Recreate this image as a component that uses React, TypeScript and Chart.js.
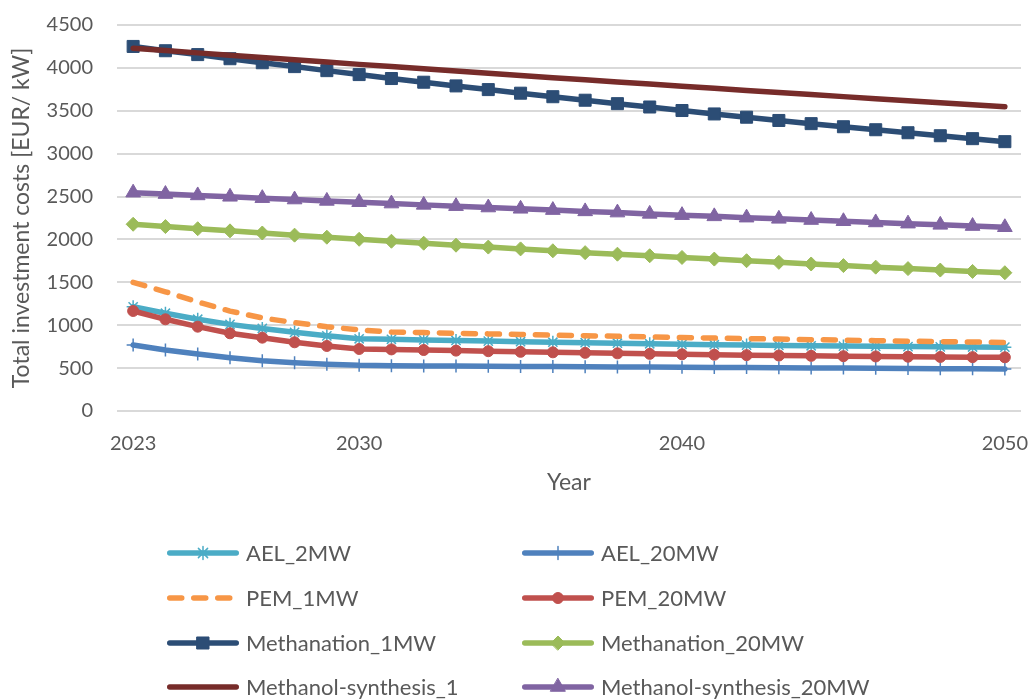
import React, { useEffect, useRef } from "react";
import { Chart, registerables } from "chart.js";
import { drawPoint } from "chart.js/helpers";

Chart.register(...registerables);

// Years on the horizontal axis and the ones that get a tick label
const years = [
  2023, 2024, 2025, 2026, 2027, 2028, 2029, 2030, 2031, 2032, 2033, 2034, 2035, 2036,
  2037, 2038, 2039, 2040, 2041, 2042, 2043, 2044, 2045, 2046, 2047, 2048, 2049, 2050,
];
const xTickYears = [2023, 2030, 2040, 2050];

// Total investment costs in EUR/kW per technology
const ael2MW = [
  1215, 1140, 1070, 1010, 962, 917, 876, 842, 836, 829, 822, 815, 808, 802,
  796, 790, 784, 778, 773, 768, 764, 760, 757, 754, 751, 748, 746, 744,
];
const ael20MW = [
  770, 712, 665, 622, 587, 562, 545, 532, 528, 526, 524, 522, 520, 518,
  516, 514, 512, 510, 508, 506, 504, 502, 500, 498, 496, 494, 492, 490,
];
const pem1MW = [
  1500, 1390, 1272, 1165, 1085, 1030, 983, 945, 922, 914, 906, 899, 892, 885,
  878, 871, 864, 857, 850, 844, 838, 832, 826, 820, 814, 809, 804, 799,
];
const pem20MW = [
  1166, 1069, 983, 906, 855, 801, 758, 723, 718, 711, 704, 697, 690, 684,
  678, 672, 666, 661, 656, 651, 647, 643, 639, 636, 633, 630, 628, 626,
];
const methanation1MW = [
  4250, 4200, 4155, 4107, 4060, 4015, 3968, 3922, 3876, 3833, 3790, 3747, 3705, 3664,
  3623, 3583, 3544, 3503, 3463, 3425, 3387, 3350, 3314, 3279, 3244, 3209, 3175, 3140,
];
const methanation20MW = [
  2177, 2150, 2125, 2100, 2075, 2050, 2026, 2002, 1979, 1956, 1933, 1911, 1890, 1868,
  1846, 1828, 1810, 1790, 1771, 1752, 1733, 1714, 1695, 1677, 1660, 1643, 1627, 1612,
];
const methanolSynthesis1 = [
  4230, 4203, 4175, 4148, 4121, 4094, 4068, 4041, 4015, 3989, 3963, 3937, 3912, 3886,
  3861, 3836, 3811, 3786, 3762, 3737, 3713, 3689, 3665, 3641, 3617, 3594, 3570, 3547,
];
const methanolSynthesis20MW = [
  2545, 2529, 2513, 2497, 2481, 2465, 2449, 2434, 2418, 2403, 2388, 2372, 2357, 2342,
  2327, 2313, 2298, 2283, 2269, 2254, 2240, 2226, 2212, 2198, 2184, 2170, 2156, 2142,
];

const FONT = "Lato";
const TEXT_COLOR = "#595959";
const LINE_WIDTH = 5.5;

// Two-column legend under the plot
const LEGEND_COL_X = [167, 522];
const LEGEND_ROW_Y = [553, 598, 643, 687];
const LEGEND_LINE_LEN = 72;
const LEGEND_TEXT_GAP = 7;
const LEGEND_FONT_SIZE = 22;

type SeriesStyle = {
  label: string;
  values: number[];
  color: string;
  pointStyle?: string;
  pointRadius?: number;
  pointBorderWidth?: number;
  dash?: number[];
};

const series: SeriesStyle[] = [
  { label: "AEL_2MW", values: ael2MW, color: "#4BACC6", pointStyle: "star", pointRadius: 6.5, pointBorderWidth: 1.5 },
  { label: "AEL_20MW", values: ael20MW, color: "#4F81BD", pointStyle: "cross", pointRadius: 6.5, pointBorderWidth: 1.5 },
  { label: "PEM_1MW", values: pem1MW, color: "#F79646", dash: [12, 12] },
  { label: "PEM_20MW", values: pem20MW, color: "#C0504D", pointStyle: "circle", pointRadius: 5.5, pointBorderWidth: 1 },
  { label: "Methanation_1MW", values: methanation1MW, color: "#2C4D75", pointStyle: "rect", pointRadius: 8.5, pointBorderWidth: 1 },
  { label: "Methanation_20MW", values: methanation20MW, color: "#9BBB59", pointStyle: "rectRot", pointRadius: 7, pointBorderWidth: 1 },
  { label: "Methanol-synthesis_1", values: methanolSynthesis1, color: "#772C2A" },
  { label: "Methanol-synthesis_20MW", values: methanolSynthesis20MW, color: "#8064A2", pointStyle: "triangle", pointRadius: 8.5, pointBorderWidth: 1 },
];

const gridLegend = {
  id: "gridLegend",
  afterDraw(chart: any) {
    const ctx: CanvasRenderingContext2D = chart.ctx;
    chart.data.datasets.forEach((ds: any, i: number) => {
      const x0 = LEGEND_COL_X[i % 2];
      const y = LEGEND_ROW_Y[Math.floor(i / 2)];
      const half = ds.borderWidth / 2;
      ctx.save();
      ctx.strokeStyle = ds.borderColor;
      ctx.lineWidth = ds.borderWidth;
      ctx.lineCap = "round";
      ctx.setLineDash(ds.borderDash || []);
      ctx.beginPath();
      ctx.moveTo(x0 + half, y);
      ctx.lineTo(x0 + LEGEND_LINE_LEN - half, y);
      ctx.stroke();
      ctx.setLineDash([]);
      if (ds.pointRadius > 0) {
        ctx.fillStyle = ds.pointBackgroundColor;
        ctx.strokeStyle = ds.pointBorderColor;
        ctx.lineWidth = ds.pointBorderWidth;
        drawPoint(
          ctx,
          { pointStyle: ds.pointStyle, radius: ds.pointRadius, rotation: 0, borderWidth: ds.pointBorderWidth } as any,
          x0 + LEGEND_LINE_LEN / 2,
          y
        );
      }
      ctx.fillStyle = TEXT_COLOR;
      ctx.font = `${LEGEND_FONT_SIZE}px ${FONT}`;
      ctx.textAlign = "left";
      ctx.textBaseline = "middle";
      ctx.fillText(ds.label, x0 + LEGEND_LINE_LEN + LEGEND_TEXT_GAP, y + 1);
      ctx.restore();
    });
  },
};

// Keep tick-label overhang from shrinking the plot area
const noScalePadding = (scale: any) => {
  scale.paddingTop = 0;
  scale.paddingBottom = 0;
  scale.paddingLeft = 0;
  scale.paddingRight = 0;
};

export default function App() {
  const canvasRef = useRef<HTMLCanvasElement | null>(null);

  useEffect(() => {
    document.body.style.margin = "0";
    const canvas = canvasRef.current;
    if (!canvas) return;

    const datasets = series.map((s, i) => ({
      label: s.label,
      data: years.map((yr, k) => ({ x: yr, y: s.values[k] })),
      borderColor: s.color,
      backgroundColor: s.color,
      borderWidth: LINE_WIDTH,
      borderDash: s.dash || [],
      borderCapStyle: "round" as const,
      borderJoinStyle: "round" as const,
      pointStyle: s.pointStyle || "circle",
      pointRadius: s.pointRadius || 0,
      pointHoverRadius: s.pointRadius || 0,
      pointBorderWidth: s.pointBorderWidth || 0,
      pointBackgroundColor: s.color,
      pointBorderColor: s.color,
      order: 20 - i,
      tension: 0,
      fill: false,
    }));

    const chart = new Chart(canvas, {
      type: "line",
      data: { datasets },
      plugins: [gridLegend],
      options: {
        responsive: false,
        animation: false,
        devicePixelRatio: 1,
        layout: { padding: { left: 0, right: 11, top: 25, bottom: 204 } },
        plugins: {
          legend: { display: false },
          tooltip: { enabled: false },
        },
        scales: {
          x: {
            type: "linear",
            min: 2022.5,
            max: 2050.5,
            afterBuildTicks: (scale: any) => {
              scale.ticks = xTickYears.map((v) => ({ value: v }));
            },
            afterFit: (scale: any) => {
              scale.height = 85;
              noScalePadding(scale);
            },
            grid: { display: false },
            border: { display: false },
            ticks: {
              autoSkip: false,
              maxRotation: 0,
              padding: 13,
              color: TEXT_COLOR,
              font: { family: FONT, size: 20 },
              callback: (v: any) => String(v),
            },
            title: {
              display: true,
              text: "Year",
              color: TEXT_COLOR,
              font: { family: FONT, size: 23 },
              padding: { top: 0, bottom: 0 },
            },
          },
          y: {
            min: 0,
            max: 4500,
            afterFit: (scale: any) => {
              scale.width = 117;
              noScalePadding(scale);
            },
            grid: { color: "#D9D9D9", lineWidth: 2, drawTicks: false },
            border: { display: false },
            ticks: {
              stepSize: 500,
              padding: 24,
              color: TEXT_COLOR,
              font: { family: FONT, size: 20 },
              callback: (v: any) => String(v),
            },
            title: {
              display: true,
              text: "Total investment costs [EUR/ kW]",
              color: TEXT_COLOR,
              font: { family: FONT, size: 23 },
              padding: { top: 8, bottom: 0 },
            },
          },
        },
      },
    });

    return () => chart.destroy();
  }, []);

  return <canvas ref={canvasRef} width={1032} height={700} style={{ display: "block" }} />;
}
